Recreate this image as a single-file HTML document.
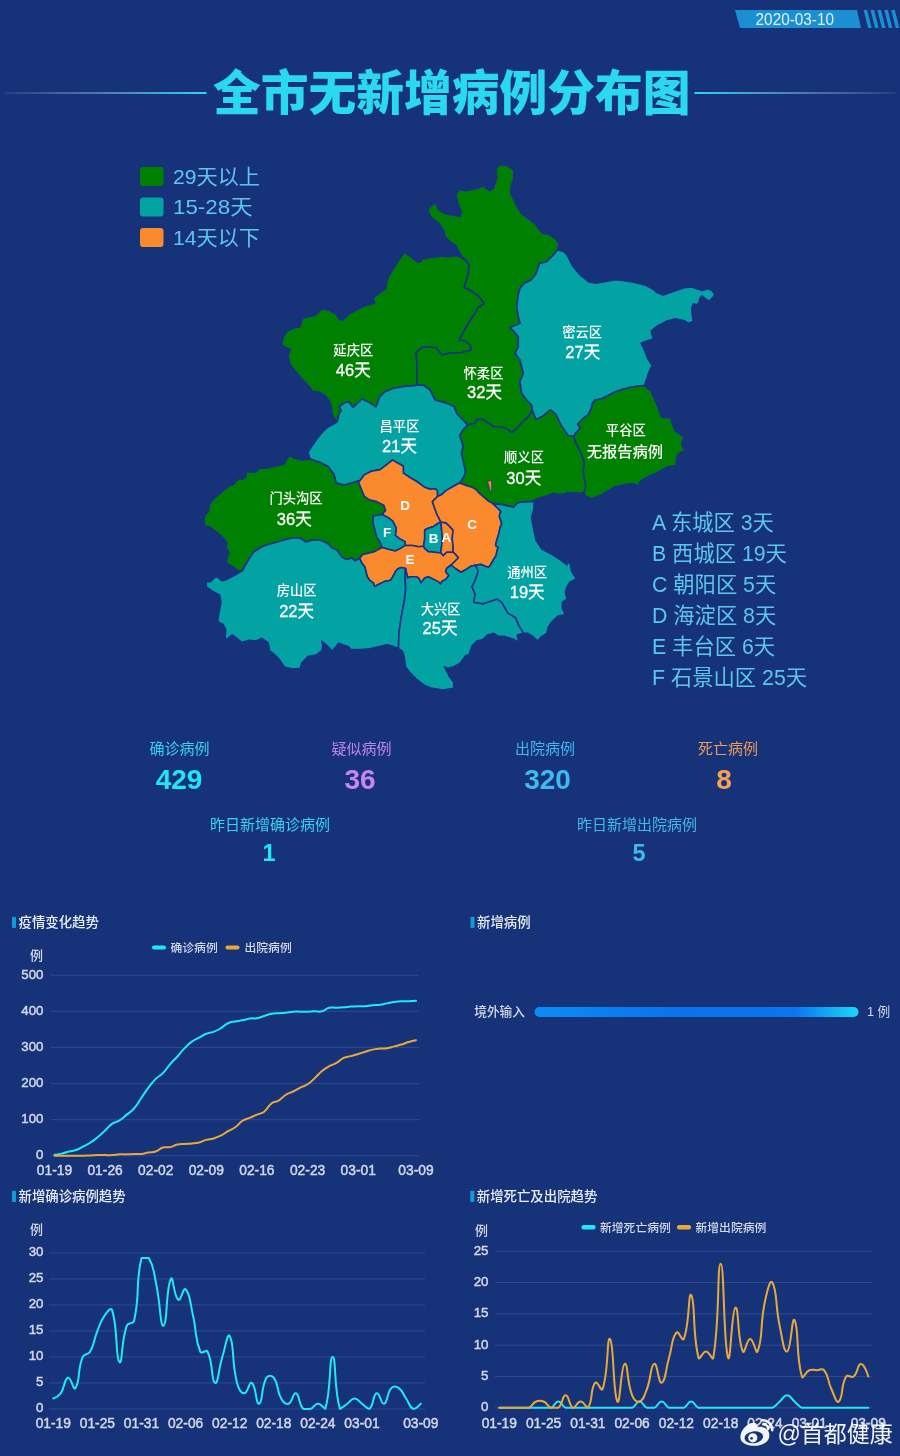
<!DOCTYPE html>
<html><head><meta charset="utf-8"><title>全市无新增病例分布图</title>
<style>
*{margin:0;padding:0;box-sizing:border-box}
html,body{width:900px;height:1456px;overflow:hidden;background:#16337a}
body{position:relative;font-family:"Liberation Sans","Noto Sans CJK SC",sans-serif}
.a{position:absolute;white-space:nowrap;line-height:1}
svg{position:absolute;left:0;top:0}
svg text{font-family:"Liberation Sans","Noto Sans CJK SC",sans-serif}
</style></head><body>
<svg width="900" height="1456" viewBox="0 0 900 1456">
<defs>
<linearGradient id="ll" x1="0" x2="1"><stop offset="0" stop-color="#9ab4dc" stop-opacity="0.1"/><stop offset="0.4" stop-color="#7aa4d8" stop-opacity="0.55"/><stop offset="1" stop-color="#2ad8ef"/></linearGradient>
<linearGradient id="lr" x1="0" x2="1"><stop offset="0" stop-color="#2ad8ef"/><stop offset="0.6" stop-color="#7aa4d8" stop-opacity="0.55"/><stop offset="1" stop-color="#9ab4dc" stop-opacity="0.1"/></linearGradient>
</defs>
<!-- date badge -->
<polygon points="735,10 857,10 861,28 740,28" fill="#1a8fd1"/>
<g fill="#1a8fd1">
<polygon points="863.6,10 867.2,10 871.7,28 868.1,28"/>
<polygon points="870.5,10 874.1,10 878.6,28 875.0,28"/>
<polygon points="877.4,10 881.0,10 885.5,28 881.9,28"/>
<polygon points="884.3,10 887.9,10 892.4,28 888.8,28"/>
<polygon points="891.2,10 894.8,10 899.3,28 895.7,28"/>
</g>
<text x="755.6" y="25" font-size="16.5" fill="#e2f1fb" textLength="78.4" lengthAdjust="spacingAndGlyphs">2020-03-10</text>
<!-- title lines -->
<rect x="5" y="92" width="201.5" height="2" fill="url(#ll)"/>
<rect x="694.5" y="92" width="201" height="2" fill="url(#lr)"/>
<text x="213" y="109.6" font-size="47.75" font-weight="900" fill="#2ad8ef">全市无新增病例分布图</text>
<!-- legend -->
<rect x="140" y="167" width="23.5" height="19" rx="3" fill="#008000"/>
<rect x="140" y="197.5" width="23.5" height="19" rx="3" fill="#03a3a3"/>
<rect x="140" y="228" width="23.5" height="19" rx="3" fill="#fb8a2f"/>
<g font-size="21" fill="#5cc6ef">
<text x="173" y="183.5" textLength="87" lengthAdjust="spacingAndGlyphs">29天以上</text>
<text x="173" y="214" textLength="79.5" lengthAdjust="spacingAndGlyphs">15-28天</text>
<text x="173" y="245" textLength="87" lengthAdjust="spacingAndGlyphs">14天以下</text>
</g>
<g stroke="#1a2f88" stroke-width="1.6" stroke-linejoin="round">
<path d="M462.0 258.0 L456.7 255.6 L447.8 256.7 L441.1 256.0 L430.0 257.8 L422.2 258.9 L421.1 261.1 L417.8 262.2 L412.2 257.8 L404.4 252.2 L401.1 256.7 L394.4 266.7 L387.8 277.8 L385.6 288.9 L378.9 293.3 L373.3 297.8 L374.4 303.3 L365.6 305.6 L358.9 308.9 L350.0 313.3 L346.9 316.3 L342.1 320.2 L339.2 319.2 L336.3 314.4 L329.6 310.6 L322.9 308.7 L320.0 310.6 L315.2 315.4 L308.5 316.8 L302.7 318.3 L300.8 323.1 L299.8 326.9 L294.0 327.9 L287.3 330.8 L283.5 336.5 L281.5 344.2 L284.4 347.1 L290.2 349.0 L288.3 354.8 L288.8 359.6 L290.2 364.4 L296.0 372.1 L301.7 378.8 L308.5 385.6 L311.3 389.4 L312.3 391.3 L320.0 392.3 L325.8 396.2 L329.6 401.9 L331.5 406.7 L331.5 412.5 L333.5 417.3 L337.3 421.5 L339.2 413.5 L341.2 410.6 L339.2 406.7 L343.1 403.8 L346.9 401.9 L349.3 402.4 L352.9 407.5 L362.0 399.0 L368.9 402.4 L376.0 406.9 L379.6 397.1 L384.9 391.8 L393.8 388.2 L404.4 386.4 L415.1 385.6 L416.5 385.0 L416.9 381.1 L416.9 363.3 L416.0 352.7 L422.2 347.3 L432.9 347.3 L436.7 348.3 L441.7 355.0 L449.2 353.3 L461.7 352.5 L471.7 350.0 L470.0 345.0 L465.0 340.8 L459.2 340.0 L468.3 323.3 L475.0 313.3 L477.5 308.3 L484.2 303.3 L478.3 295.8 L470.0 290.0 L464.2 287.5 L468.3 273.3 L469.2 265.0 L465.8 259.2Z" fill="#008000"/>
<path d="M462.0 258.0 L466.6 261.7 L463.0 258.1 L459.4 252.8 L455.9 245.7 L450.6 242.1 L445.2 236.8 L443.4 229.7 L438.1 222.6 L431.0 217.2 L427.4 210.1 L432.8 203.9 L435.4 203.0 L439.0 210.1 L445.2 213.7 L454.1 215.4 L460.3 216.3 L461.2 211.9 L457.7 203.0 L455.9 194.1 L459.4 189.7 L466.6 190.6 L475.4 188.8 L482.6 186.1 L486.1 187.9 L489.7 190.6 L493.2 188.8 L496.8 178.1 L495.9 169.2 L498.6 165.3 L503.9 164.8 L509.2 166.6 L513.7 170.1 L513.7 178.1 L511.0 187.0 L511.0 194.1 L514.6 201.2 L518.1 208.3 L521.7 213.7 L528.8 219.0 L535.9 224.3 L539.4 229.7 L543.0 233.2 L548.3 234.1 L555.4 238.6 L559.0 243.9 L557.5 250.0 L553.7 254.6 L550.1 258.1 L546.6 261.7 L539.4 263.4 L537.7 268.8 L535.6 274.4 L531.1 280.0 L524.4 283.3 L520.0 288.3 L518.3 295.0 L516.7 306.7 L518.3 316.7 L520.0 323.3 L510.0 327.5 L513.3 330.8 L518.3 336.7 L518.3 346.7 L515.0 353.3 L520.0 360.0 L521.7 366.7 L523.3 373.3 L520.0 381.7 L521.7 393.3 L526.7 400.0 L531.7 405.0 L532.4 410.5 L528.9 416.0 L523.6 421.3 L518.2 426.7 L512.0 433.0 L507.6 429.3 L500.4 426.7 L493.3 426.7 L483.0 419.5 L476.7 419.2 L475.0 423.3 L467.5 425.0 L463.0 420.0 L457.0 414.0 L454.0 406.5 L446.0 403.0 L435.0 400.0 L430.0 390.0 L424.0 385.5 L416.5 385.0 L416.9 381.1 L416.9 363.3 L416.0 352.7 L422.2 347.3 L432.9 347.3 L436.7 348.3 L441.7 355.0 L449.2 353.3 L461.7 352.5 L471.7 350.0 L470.0 345.0 L465.0 340.8 L459.2 340.0 L468.3 323.3 L475.0 313.3 L477.5 308.3 L484.2 303.3 L478.3 295.8 L470.0 290.0 L464.2 287.5 L468.3 273.3 L469.2 265.0 L465.8 259.2Z" fill="#008000"/>
<path d="M557.5 250.0 L560.0 250.4 L563.5 251.5 L567.1 254.9 L572.4 265.6 L579.6 274.4 L588.4 281.6 L595.6 283.3 L604.4 281.6 L615.1 279.8 L624.0 280.7 L634.7 282.4 L645.3 285.1 L652.4 288.7 L657.8 293.1 L663.1 294.9 L673.8 291.3 L684.4 287.8 L691.6 286.9 L696.9 288.7 L702.2 290.4 L707.6 288.7 L712.0 290.4 L714.7 294.0 L712.9 297.6 L709.3 301.1 L705.8 299.3 L702.2 295.8 L700.4 297.6 L698.7 302.9 L696.9 304.7 L693.3 303.8 L691.6 308.2 L692.4 315.3 L693.3 321.6 L688.0 323.3 L684.4 320.7 L675.6 318.9 L666.7 321.1 L657.8 325.6 L651.1 331.1 L653.3 338.9 L646.7 341.1 L641.1 343.3 L644.4 350.0 L647.8 358.9 L652.2 365.6 L648.9 372.2 L646.7 379.0 L644.9 384.2 L644.5 385.5 L639.0 386.0 L631.0 387.3 L623.0 389.3 L615.0 392.0 L609.7 394.7 L601.7 398.7 L595.0 400.0 L592.3 404.0 L591.0 409.3 L588.3 414.7 L583.0 418.7 L577.7 424.0 L580.3 428.0 L575.6 433.5 L573.8 436.5 L568.0 435.6 L560.9 424.9 L555.6 414.2 L550.2 409.8 L543.1 416.0 L536.0 419.6 L532.4 410.5 L531.7 405.0 L526.7 400.0 L521.7 393.3 L520.0 381.7 L523.3 373.3 L521.7 366.7 L520.0 360.0 L515.0 353.3 L518.3 346.7 L518.3 336.7 L513.3 330.8 L510.0 327.5 L520.0 323.3 L518.3 316.7 L516.7 306.7 L518.3 295.0 L520.0 288.3 L524.4 283.3 L531.1 280.0 L535.6 274.4 L537.7 268.8 L539.4 263.4 L546.6 261.7 L550.1 258.1 L553.7 254.6Z" fill="#03a3a3"/>
<path d="M644.5 385.5 L647.0 388.0 L651.0 390.7 L653.7 397.3 L657.7 406.7 L661.7 417.3 L671.0 418.0 L672.3 424.0 L675.0 430.7 L680.3 434.7 L684.3 437.3 L681.7 442.7 L683.0 448.0 L688.3 449.3 L681.7 452.0 L677.7 454.7 L676.3 460.0 L676.3 465.3 L668.3 466.7 L663.0 469.3 L656.3 473.3 L649.7 476.0 L644.3 478.7 L640.3 481.3 L637.7 486.7 L635.0 484.0 L628.3 484.0 L621.7 485.3 L615.0 486.7 L608.3 490.7 L601.7 494.7 L595.0 497.3 L591.0 498.7 L585.7 496.0 L583.5 493.0 L585.7 486.7 L584.3 480.0 L583.0 470.7 L584.3 462.7 L581.7 454.7 L577.7 446.7 L575.0 441.3 L573.8 436.5 L575.6 433.5 L580.3 428.0 L577.7 424.0 L583.0 418.7 L588.3 414.7 L591.0 409.3 L592.3 404.0 L595.0 400.0 L601.7 398.7 L609.7 394.7 L615.0 392.0 L623.0 389.3 L631.0 387.3 L639.0 386.0Z" fill="#008000"/>
<path d="M467.5 425.0 L475.0 423.3 L476.7 419.2 L483.0 419.5 L493.3 426.7 L500.4 426.7 L507.6 429.3 L512.0 433.0 L518.2 426.7 L523.6 421.3 L528.9 416.0 L532.4 410.5 L536.0 419.6 L543.1 416.0 L550.2 409.8 L555.6 414.2 L560.9 424.9 L568.0 435.6 L573.8 436.5 L575.0 441.3 L577.7 446.7 L581.7 454.7 L584.3 462.7 L583.0 470.7 L584.3 480.0 L585.7 486.7 L583.5 493.0 L575.1 493.0 L566.7 492.7 L564.4 494.2 L557.8 494.4 L553.8 493.3 L546.7 496.0 L539.6 497.8 L534.2 500.4 L532.7 501.6 L527.8 501.6 L522.9 502.2 L520.0 502.2 L517.2 503.3 L513.3 507.2 L508.9 506.1 L501.0 504.4 L492.6 503.4 L488.7 501.3 L483.8 497.2 L478.9 493.0 L476.5 490.0 L472.8 487.5 L466.7 485.7 L459.5 483.0 L463.0 478.3 L465.5 472.2 L464.2 466.1 L463.0 460.0 L461.3 453.3 L463.1 446.2 L459.6 435.6 L463.0 430.0 L466.7 425.8Z" fill="#008000"/>
<path d="M337.3 421.5 L339.2 413.5 L341.2 410.6 L339.2 406.7 L343.1 403.8 L346.9 401.9 L349.3 402.4 L352.9 407.5 L362.0 399.0 L368.9 402.4 L376.0 406.9 L379.6 397.1 L384.9 391.8 L393.8 388.2 L404.4 386.4 L415.1 385.6 L416.5 385.0 L424.0 385.5 L430.0 390.0 L435.0 400.0 L446.0 403.0 L454.0 406.5 L457.0 414.0 L463.0 420.0 L467.5 425.0 L466.7 425.8 L463.0 430.0 L459.6 435.6 L463.1 446.2 L461.3 453.3 L463.0 460.0 L464.2 466.1 L465.5 472.2 L463.0 478.3 L459.5 483.0 L454.4 485.7 L445.9 490.6 L442.2 494.2 L437.5 496.5 L437.3 490.6 L434.9 488.7 L430.0 489.3 L424.7 487.3 L417.6 482.0 L408.7 476.7 L403.3 473.1 L403.3 466.0 L398.0 463.3 L392.7 459.8 L387.3 464.2 L380.2 469.6 L371.3 471.3 L364.2 474.9 L358.9 482.0 L358.0 481.0 L352.0 483.0 L344.0 485.0 L336.0 483.0 L334.0 474.5 L328.0 466.5 L320.0 462.5 L310.0 459.0 L308.0 452.0 L312.0 446.0 L317.1 438.5 L321.9 432.7 L326.7 427.9 L333.5 424.0Z" fill="#03a3a3"/>
<path d="M310.0 459.0 L320.0 462.5 L328.0 466.5 L334.0 474.5 L336.0 483.0 L344.0 485.0 L352.0 483.0 L358.0 481.0 L360.7 487.3 L364.2 496.2 L369.6 499.8 L376.7 501.6 L383.8 505.1 L385.6 510.4 L382.0 514.5 L373.1 516.0 L373.1 522.9 L374.9 530.0 L376.7 537.1 L380.0 542.0 L382.0 547.5 L374.6 551.6 L367.2 553.4 L362.3 554.7 L359.9 558.3 L355.0 560.8 L352.0 558.0 L346.7 559.6 L341.8 557.1 L336.9 550.0 L332.0 548.0 L327.1 543.0 L320.0 540.0 L312.0 540.0 L306.0 542.0 L300.0 538.0 L292.0 538.0 L284.0 540.0 L275.5 542.5 L268.0 544.5 L261.9 546.8 L253.7 552.0 L249.6 558.1 L246.0 564.0 L242.5 570.5 L239.3 571.5 L232.1 566.4 L225.9 562.3 L229.0 552.0 L225.9 547.8 L226.9 542.7 L221.8 536.5 L215.6 531.4 L209.4 526.7 L204.3 525.7 L204.3 518.0 L205.3 513.9 L208.4 511.8 L209.4 504.6 L211.5 501.5 L217.7 495.3 L224.9 489.1 L229.0 486.0 L234.1 484.0 L236.2 480.9 L239.3 478.3 L242.4 479.4 L245.5 477.8 L246.5 471.6 L252.7 472.1 L256.8 471.6 L258.9 468.5 L268.0 468.0 L276.0 466.0 L284.0 464.0 L286.0 460.0 L290.0 455.0 L294.0 458.0 L302.0 460.0Z" fill="#008000"/>
<path d="M358.0 481.0 L358.9 482.0 L364.2 474.9 L371.3 471.3 L380.2 469.6 L387.3 464.2 L392.7 459.8 L398.0 463.3 L403.3 466.0 L403.3 473.1 L408.7 476.7 L417.6 482.0 L424.7 487.3 L430.0 489.3 L434.9 488.7 L437.3 490.6 L437.5 496.5 L432.4 501.6 L434.9 508.9 L437.3 515.0 L439.8 519.9 L441.0 522.0 L437.1 524.0 L433.6 526.4 L428.2 528.2 L424.7 530.0 L424.7 538.9 L423.5 546.3 L418.6 546.7 L412.5 545.5 L405.0 545.5 L405.1 541.6 L399.8 538.9 L395.3 535.3 L396.2 528.2 L392.7 521.1 L388.2 517.6 L382.0 514.5 L385.6 510.4 L383.8 505.1 L376.7 501.6 L369.6 499.8 L364.2 496.2 L360.7 487.3Z" fill="#fb8a2f"/>
<path d="M382.0 514.5 L388.2 517.6 L392.7 521.1 L396.2 528.2 L395.3 535.3 L399.8 538.9 L405.1 541.6 L405.0 545.5 L400.2 548.6 L395.3 551.0 L389.2 549.5 L382.0 547.5 L380.0 542.0 L376.7 537.1 L374.9 530.0 L373.1 522.9 L373.1 516.0Z" fill="#03a3a3"/>
<path d="M441.0 522.0 L441.6 530.0 L442.4 538.9 L441.6 546.0 L440.8 553.0 L434.5 552.2 L428.3 551.6 L424.7 548.6 L423.5 546.3 L424.7 538.9 L424.7 530.0 L428.2 528.2 L433.6 526.4 L437.1 524.0Z" fill="#03a3a3"/>
<path d="M441.0 522.0 L446.0 522.9 L449.6 526.4 L453.1 530.0 L452.2 538.9 L453.1 546.0 L453.1 552.2 L453.3 552.2 L446.7 552.2 L443.3 555.6 L440.8 553.0 L441.6 546.0 L442.4 538.9 L441.6 530.0Z" fill="#fb8a2f"/>
<path d="M459.5 483.0 L466.7 485.7 L472.8 487.5 L476.5 490.0 L478.9 493.0 L483.8 497.2 L488.7 501.3 L492.6 503.4 L496.5 507.0 L501.1 511.7 L500.0 513.3 L499.4 516.7 L501.1 521.1 L501.7 523.9 L500.0 527.8 L498.9 533.3 L497.2 538.9 L495.6 544.4 L496.1 546.1 L498.3 547.2 L497.2 550.0 L496.1 555.6 L493.3 560.0 L490.5 565.0 L488.5 567.3 L486.0 566.5 L481.0 564.4 L475.5 565.2 L471.1 566.1 L466.0 569.5 L461.1 572.2 L456.0 569.0 L451.0 565.0 L454.5 561.5 L458.3 557.8 L455.5 554.5 L453.3 552.2 L453.1 552.2 L453.1 546.0 L452.2 538.9 L453.1 530.0 L449.6 526.4 L446.0 522.9 L441.0 522.0 L439.8 519.9 L437.3 515.0 L434.9 508.9 L432.4 501.6 L437.5 496.5 L442.2 494.2 L445.9 490.6 L454.4 485.7Z" fill="#fb8a2f"/>
<path d="M359.9 558.3 L362.3 554.7 L367.2 553.4 L374.6 551.6 L382.0 547.5 L389.2 549.5 L395.3 551.0 L400.2 548.6 L405.0 545.5 L412.5 545.5 L418.6 546.7 L423.5 546.3 L424.7 548.6 L428.3 551.6 L434.5 552.2 L440.8 553.0 L443.3 555.6 L446.7 552.2 L453.3 552.2 L455.5 554.5 L458.3 557.8 L454.5 561.5 L451.0 565.0 L446.7 568.3 L445.6 571.7 L448.9 575.6 L445.6 579.4 L441.8 581.5 L440.6 584.0 L438.1 581.6 L433.2 579.1 L428.3 576.7 L424.7 577.9 L421.0 582.8 L418.6 577.9 L416.1 576.7 L410.0 576.7 L407.6 577.9 L406.3 571.8 L405.5 568.5 L401.5 567.5 L397.8 568.7 L395.3 571.8 L392.9 576.7 L390.5 580.3 L384.3 581.6 L379.4 584.0 L374.6 586.5 L373.3 582.8 L369.7 580.3 L367.2 576.7 L366.0 571.8 L364.8 566.9 L361.1 562.0Z" fill="#fb8a2f"/>
<path d="M242.5 570.5 L246.0 564.0 L249.6 558.1 L253.7 552.0 L261.9 546.8 L268.0 544.5 L275.5 542.5 L284.0 540.0 L292.0 538.0 L300.0 538.0 L306.0 542.0 L312.0 540.0 L320.0 540.0 L327.1 543.0 L332.0 548.0 L336.9 550.0 L341.8 557.1 L346.7 559.6 L352.0 558.0 L355.0 560.8 L359.9 558.3 L361.1 562.0 L364.8 566.9 L366.0 571.8 L367.2 576.7 L369.7 580.3 L373.3 582.8 L374.6 586.5 L379.4 584.0 L384.3 581.6 L390.5 580.3 L392.9 576.7 L395.3 571.8 L397.8 568.7 L401.5 567.5 L405.5 568.5 L405.1 576.7 L405.7 588.9 L404.5 600.0 L401.1 617.8 L398.9 633.3 L398.5 648.5 L393.1 646.4 L386.9 644.9 L380.7 646.4 L369.8 648.8 L360.4 649.5 L351.1 649.5 L348.0 646.4 L343.3 644.9 L338.7 643.3 L332.4 651.1 L326.2 644.9 L321.7 641.0 L323.0 645.7 L321.7 651.0 L316.3 655.0 L308.3 656.3 L301.7 663.0 L300.3 668.3 L292.3 669.0 L284.3 667.0 L279.0 659.0 L273.7 653.7 L269.7 651.0 L268.3 643.0 L261.7 638.3 L256.3 641.0 L249.7 640.3 L241.7 642.3 L237.7 639.0 L232.3 635.0 L225.0 640.3 L225.7 629.7 L223.0 624.3 L217.7 621.7 L219.0 612.3 L221.0 603.0 L219.7 595.2 L212.5 591.1 L206.3 587.0 L206.3 581.8 L210.4 581.8 L215.6 576.7 L218.7 577.7 L221.8 580.8 L225.9 579.8 L234.1 575.6Z" fill="#03a3a3"/>
<path d="M405.5 568.5 L406.3 571.8 L407.6 577.9 L410.0 576.7 L416.1 576.7 L418.6 577.9 L421.0 582.8 L424.7 577.9 L428.3 576.7 L433.2 579.1 L438.1 581.6 L440.6 584.0 L441.8 581.5 L445.6 579.4 L448.9 575.6 L445.6 571.7 L446.7 568.3 L451.0 565.0 L456.0 569.0 L461.1 572.2 L466.0 569.5 L471.1 566.1 L475.5 565.2 L478.3 571.1 L475.2 580.4 L472.1 586.7 L475.2 594.4 L473.7 602.2 L483.0 603.8 L497.0 599.1 L501.7 602.2 L507.9 613.1 L515.7 617.8 L518.8 625.5 L521.9 630.2 L523.4 633.3 L517.2 634.9 L518.8 642.6 L514.1 639.5 L504.8 636.4 L498.5 636.4 L493.9 633.3 L487.7 634.9 L483.0 639.5 L476.8 641.1 L472.1 645.8 L469.0 655.1 L465.6 655.6 L460.0 663.5 L453.7 666.7 L447.5 668.2 L444.4 666.7 L449.1 676.0 L453.7 682.2 L453.7 688.4 L442.9 690.0 L432.0 688.4 L424.2 685.3 L416.4 679.1 L410.2 672.9 L405.5 666.7 L404.8 662.0 L404.0 655.8 L402.4 651.1 L398.5 648.5 L398.9 633.3 L401.1 617.8 L404.5 600.0 L405.7 588.9 L405.1 576.7Z" fill="#03a3a3"/>
<path d="M492.6 503.4 L501.0 504.4 L508.9 506.1 L513.3 507.2 L517.2 503.3 L520.0 502.2 L522.9 502.2 L527.8 501.6 L532.7 501.6 L534.2 500.4 L533.9 508.9 L531.5 517.5 L533.9 530.0 L535.9 540.0 L542.1 549.3 L551.4 554.0 L560.8 560.2 L567.0 564.9 L566.2 561.8 L570.1 563.3 L571.6 571.1 L576.3 578.9 L570.1 582.0 L567.0 586.7 L565.4 592.9 L567.0 599.1 L562.3 602.2 L562.3 608.4 L565.4 614.6 L557.6 616.2 L551.4 622.4 L548.3 627.1 L546.8 633.3 L542.1 636.4 L537.4 641.1 L532.8 636.4 L528.1 633.3 L523.4 633.3 L521.9 630.2 L518.8 625.5 L515.7 617.8 L507.9 613.1 L501.7 602.2 L497.0 599.1 L483.0 603.8 L473.7 602.2 L475.2 594.4 L472.1 586.7 L475.2 580.4 L478.3 571.1 L475.5 565.2 L481.0 564.4 L486.0 566.5 L488.5 567.3 L490.5 565.0 L493.3 560.0 L496.1 555.6 L497.2 550.0 L498.3 547.2 L496.1 546.1 L495.6 544.4 L497.2 538.9 L498.9 533.3 L500.0 527.8 L501.7 523.9 L501.1 521.1 L499.4 516.7 L500.0 513.3 L501.1 511.7 L496.5 507.0Z" fill="#03a3a3"/>
<path d="M487.5 481.4 L491.7 480.2 L491.7 490.6 L490.5 491.8Z" fill="#fb8a2f" stroke-width="0.8"/>
</g>
<g fill="#ffffff" text-anchor="middle">
<text x="353.3" y="354.8" font-size="13.3" font-weight="500">延庆区</text>
<text x="353.3" y="375.6" font-size="16.5" stroke="#ffffff" stroke-width="0.3">46天</text>
<text x="483.5" y="377.5" font-size="13.3" font-weight="500">怀柔区</text>
<text x="484.5" y="397.5" font-size="16.5" stroke="#ffffff" stroke-width="0.3">32天</text>
<text x="582.2" y="337.0" font-size="13.3" font-weight="500">密云区</text>
<text x="582.8" y="357.8" font-size="16.5" stroke="#ffffff" stroke-width="0.3">27天</text>
<text x="625.8" y="435.0" font-size="13.3" font-weight="500">平谷区</text>
<text x="624.9" y="456.9" font-size="15.3" font-weight="500">无报告病例</text>
<text x="399.5" y="431.2" font-size="13.3" font-weight="500">昌平区</text>
<text x="399.5" y="452.0" font-size="16.5" stroke="#ffffff" stroke-width="0.3">21天</text>
<text x="524.0" y="462.3" font-size="13.3" font-weight="500">顺义区</text>
<text x="523.8" y="483.6" font-size="16.5" stroke="#ffffff" stroke-width="0.3">30天</text>
<text x="296.0" y="503.2" font-size="13.3" font-weight="500">门头沟区</text>
<text x="294.3" y="525.0" font-size="16.5" stroke="#ffffff" stroke-width="0.3">36天</text>
<text x="296.6" y="595.4" font-size="13.3" font-weight="500">房山区</text>
<text x="296.6" y="617.0" font-size="16.5" stroke="#ffffff" stroke-width="0.3">22天</text>
<text x="440.6" y="613.6" font-size="13.3" font-weight="500">大兴区</text>
<text x="440.0" y="634.4" font-size="16.5" stroke="#ffffff" stroke-width="0.3">25天</text>
<text x="527.2" y="577.0" font-size="13.3" font-weight="500">通州区</text>
<text x="527.2" y="597.8" font-size="16.5" stroke="#ffffff" stroke-width="0.3">19天</text>
<text x="405.2" y="509.6" font-size="13.5" font-weight="bold">D</text>
<text x="387.0" y="537.1" font-size="13.5" font-weight="bold">F</text>
<text x="433.6" y="543.3" font-size="13.5" font-weight="bold">B</text>
<text x="446.4" y="542.4" font-size="13.5" font-weight="bold">A</text>
<text x="472.2" y="529.1" font-size="13.5" font-weight="bold">C</text>
<text x="410.0" y="563.8" font-size="13.5" font-weight="bold">E</text>
</g>
<g font-size="21.3" fill="#5cc6ef">
<text x="652" y="529.5">A 东城区 3天</text>
<text x="652" y="560.5">B 西城区 19天</text>
<text x="652" y="591.5">C 朝阳区 5天</text>
<text x="652" y="622.5">D 海淀区 8天</text>
<text x="652" y="653.5">E 丰台区 6天</text>
<text x="652" y="684.5">F 石景山区 25天</text>
</g>
<!-- stats -->
<g font-size="15" text-anchor="middle">
<text x="179.5" y="754" fill="#38d2ee">确诊病例</text>
<text x="361.5" y="754" fill="#c084ec">疑似病例</text>
<text x="545" y="754" fill="#43b8ec">出院病例</text>
<text x="728" y="754" fill="#ec9a5a">死亡病例</text>
<text x="270" y="830" fill="#38d2ee">昨日新增确诊病例</text>
<text x="637" y="830" fill="#43b8ec">昨日新增出院病例</text>
</g>
<g font-size="28" font-weight="bold" text-anchor="middle" font-family="Liberation Sans,sans-serif">
<text x="179" y="788.5" fill="#1fe6f6">429</text>
<text x="360" y="788.5" fill="#c985f2">36</text>
<text x="547.5" y="788.5" fill="#3fbaf0">320</text>
<text x="724" y="788.5" fill="#f6a058">8</text>
<text x="269" y="861" fill="#1fe6f6" font-size="23.5">1</text>
<text x="639" y="861" fill="#3fbaf0" font-size="23.5">5</text>
</g>
<rect x="12.0" y="916.9" width="4" height="11" fill="#139bd3"/><text x="18.5" y="927.3" font-size="13.4" fill="#e8edf5" font-weight="500" text-anchor="start" >疫情变化趋势</text>
<rect x="152" y="945.5" width="14" height="4" rx="2" fill="#21e8f2"/>
<text x="170.5" y="951.5" font-size="11.8" fill="#d3d9e6" font-weight="500" text-anchor="start" >确诊病例</text>
<rect x="225.5" y="945.5" width="14" height="4" rx="2" fill="#e9a93a"/>
<text x="244.5" y="951.5" font-size="11.8" fill="#d3d9e6" font-weight="500" text-anchor="start" >出院病例</text>
<text x="43.0" y="959.5" font-size="13" fill="#d3d9e6" font-weight="500" text-anchor="end" >例</text>
<text x="43.5" y="1159.1" font-size="13.3" fill="#d3d9e6" font-weight="normal" text-anchor="end" stroke="#d3d9e6" stroke-width="0.45">0</text>
<line x1="51" x2="419" y1="1119.7" y2="1119.7" stroke="#2f4a8e" stroke-width="1"/>
<text x="43.5" y="1123.0" font-size="13.3" fill="#d3d9e6" font-weight="normal" text-anchor="end" stroke="#d3d9e6" stroke-width="0.45">100</text>
<line x1="51" x2="419" y1="1083.6" y2="1083.6" stroke="#2f4a8e" stroke-width="1"/>
<text x="43.5" y="1086.9" font-size="13.3" fill="#d3d9e6" font-weight="normal" text-anchor="end" stroke="#d3d9e6" stroke-width="0.45">200</text>
<line x1="51" x2="419" y1="1047.4" y2="1047.4" stroke="#2f4a8e" stroke-width="1"/>
<text x="43.5" y="1050.7" font-size="13.3" fill="#d3d9e6" font-weight="normal" text-anchor="end" stroke="#d3d9e6" stroke-width="0.45">300</text>
<line x1="51" x2="419" y1="1011.3" y2="1011.3" stroke="#2f4a8e" stroke-width="1"/>
<text x="43.5" y="1014.6" font-size="13.3" fill="#d3d9e6" font-weight="normal" text-anchor="end" stroke="#d3d9e6" stroke-width="0.45">400</text>
<line x1="51" x2="419" y1="975.2" y2="975.2" stroke="#2f4a8e" stroke-width="1"/>
<text x="43.5" y="978.5" font-size="13.3" fill="#d3d9e6" font-weight="normal" text-anchor="end" stroke="#d3d9e6" stroke-width="0.45">500</text>
<line x1="51" x2="419" y1="1155.8" y2="1155.8" stroke="#2f4a8e" stroke-width="1"/>
<text x="54.5" y="1175.0" font-size="13.8" fill="#d3d9e6" font-weight="normal" text-anchor="middle" stroke="#d3d9e6" stroke-width="0.45">01-19</text>
<text x="105.1" y="1175.0" font-size="13.8" fill="#d3d9e6" font-weight="normal" text-anchor="middle" stroke="#d3d9e6" stroke-width="0.45">01-26</text>
<text x="155.7" y="1175.0" font-size="13.8" fill="#d3d9e6" font-weight="normal" text-anchor="middle" stroke="#d3d9e6" stroke-width="0.45">02-02</text>
<text x="206.3" y="1175.0" font-size="13.8" fill="#d3d9e6" font-weight="normal" text-anchor="middle" stroke="#d3d9e6" stroke-width="0.45">02-09</text>
<text x="256.9" y="1175.0" font-size="13.8" fill="#d3d9e6" font-weight="normal" text-anchor="middle" stroke="#d3d9e6" stroke-width="0.45">02-16</text>
<text x="307.6" y="1175.0" font-size="13.8" fill="#d3d9e6" font-weight="normal" text-anchor="middle" stroke="#d3d9e6" stroke-width="0.45">02-23</text>
<text x="358.2" y="1175.0" font-size="13.8" fill="#d3d9e6" font-weight="normal" text-anchor="middle" stroke="#d3d9e6" stroke-width="0.45">03-01</text>
<text x="416.0" y="1175.0" font-size="13.8" fill="#d3d9e6" font-weight="normal" text-anchor="middle" stroke="#d3d9e6" stroke-width="0.45">03-09</text>
<path d="M54.50 1154.72 C54.50 1154.72 58.17 1154.43 61.73 1153.63 C65.40 1152.81 65.30 1152.38 68.96 1151.47 C72.53 1150.57 72.74 1151.23 76.19 1150.02 C79.97 1148.70 79.84 1148.29 83.42 1146.41 C87.07 1144.49 87.20 1144.68 90.65 1142.44 C94.43 1139.98 94.40 1139.89 97.88 1137.02 C101.63 1133.93 101.54 1133.82 105.11 1130.52 C108.77 1127.13 108.31 1126.47 112.34 1123.65 C115.54 1121.41 116.23 1122.49 119.57 1120.40 C123.46 1117.97 123.23 1117.57 126.80 1114.62 C130.46 1111.61 130.94 1112.03 134.03 1108.48 C138.17 1103.72 137.64 1103.25 141.26 1098.01 C144.88 1092.77 144.66 1092.61 148.49 1087.53 C151.89 1083.03 151.75 1082.83 155.72 1078.86 C158.98 1075.61 159.74 1076.38 162.95 1073.09 C166.97 1068.97 166.39 1068.41 170.18 1064.06 C173.62 1060.11 173.88 1060.34 177.41 1056.47 C181.11 1052.40 180.80 1052.09 184.64 1048.16 C188.03 1044.69 187.96 1044.49 191.87 1041.66 C195.19 1039.26 195.48 1039.67 199.10 1037.69 C202.72 1035.70 202.53 1035.23 206.33 1033.71 C209.76 1032.34 210.09 1033.21 213.56 1031.91 C217.32 1030.50 217.33 1030.37 220.79 1028.30 C224.56 1026.03 224.10 1025.10 228.02 1023.24 C231.33 1021.67 231.60 1022.16 235.25 1021.43 C238.83 1020.72 238.90 1021.07 242.48 1020.35 C246.13 1019.62 246.04 1019.09 249.71 1018.54 C253.27 1018.01 253.40 1018.80 256.94 1018.18 C260.63 1017.54 260.56 1017.10 264.17 1016.02 C267.79 1014.93 267.72 1014.58 271.40 1013.85 C274.95 1013.14 275.01 1013.40 278.63 1013.13 C282.24 1012.86 282.26 1013.12 285.86 1012.76 C289.49 1012.40 289.45 1011.95 293.09 1011.68 C296.68 1011.41 296.71 1011.68 300.32 1011.68 C303.94 1011.68 303.94 1011.77 307.55 1011.68 C311.17 1011.59 311.16 1011.41 314.78 1011.32 C318.39 1011.23 318.60 1012.17 322.01 1011.32 C325.83 1010.37 325.42 1008.66 329.24 1007.71 C332.65 1006.86 332.86 1007.80 336.47 1007.71 C340.09 1007.62 340.09 1007.62 343.70 1007.35 C347.32 1007.08 347.31 1006.90 350.93 1006.62 C354.54 1006.35 354.54 1006.35 358.16 1006.26 C361.77 1006.17 361.80 1006.53 365.39 1006.26 C369.03 1005.99 368.99 1005.54 372.62 1005.18 C376.22 1004.82 376.27 1005.27 379.85 1004.82 C383.50 1004.36 383.47 1004.10 387.08 1003.37 C390.70 1002.65 390.67 1002.47 394.31 1001.93 C397.90 1001.39 397.92 1001.39 401.54 1001.21 C405.15 1001.03 405.16 1001.30 408.77 1001.21 C412.39 1001.12 416.00 1000.85 416.00 1000.85" fill="none" stroke="#21e8f2" stroke-width="2" stroke-linejoin="round" stroke-linecap="round"/>
<path d="M54.50 1155.80 C54.50 1155.80 58.12 1155.80 61.73 1155.80 C65.34 1155.80 65.35 1155.80 68.96 1155.80 C72.58 1155.80 72.58 1155.80 76.19 1155.80 C79.80 1155.80 79.81 1155.80 83.42 1155.80 C87.04 1155.71 87.04 1155.62 90.65 1155.44 C94.27 1155.26 94.26 1155.17 97.88 1155.08 C101.49 1154.99 101.50 1155.08 105.11 1155.08 C108.72 1155.08 108.73 1155.26 112.34 1155.08 C115.96 1154.90 115.95 1154.54 119.57 1154.36 C123.18 1154.18 123.19 1154.45 126.80 1154.36 C130.42 1154.26 130.41 1154.08 134.03 1153.99 C137.64 1153.90 137.68 1154.35 141.26 1153.99 C144.91 1153.63 144.86 1153.18 148.49 1152.55 C152.09 1151.92 152.32 1152.65 155.72 1151.47 C159.55 1150.13 159.10 1148.65 162.95 1147.49 C166.33 1146.48 166.67 1147.83 170.18 1147.13 C173.90 1146.39 173.70 1145.44 177.41 1144.60 C180.93 1143.81 181.02 1144.15 184.64 1143.88 C188.25 1143.61 188.27 1143.88 191.87 1143.52 C195.50 1143.16 195.57 1143.32 199.10 1142.44 C202.80 1141.51 202.65 1140.92 206.33 1139.91 C209.88 1138.93 210.04 1139.52 213.56 1138.46 C217.27 1137.35 217.32 1137.31 220.79 1135.57 C224.55 1133.70 224.37 1133.34 228.02 1131.24 C231.60 1129.18 231.93 1129.67 235.25 1127.27 C239.16 1124.43 238.47 1123.37 242.48 1120.76 C245.70 1118.68 246.13 1119.40 249.71 1117.87 C253.36 1116.33 253.29 1116.17 256.94 1114.62 C260.52 1113.10 261.18 1114.05 264.17 1111.73 C268.41 1108.45 267.16 1106.71 271.40 1103.43 C274.39 1101.11 275.33 1102.52 278.63 1100.54 C282.56 1098.18 281.97 1097.19 285.86 1094.76 C289.20 1092.67 289.55 1093.28 293.09 1091.51 C296.78 1089.66 296.63 1089.38 300.32 1087.53 C303.86 1085.76 304.26 1086.42 307.55 1084.28 C311.49 1081.72 311.30 1081.36 314.78 1078.14 C318.53 1074.68 318.09 1074.15 322.01 1070.92 C325.32 1068.19 325.47 1068.29 329.24 1066.22 C332.70 1064.32 333.05 1064.94 336.47 1062.97 C340.28 1060.78 339.78 1059.78 343.70 1057.91 C347.01 1056.34 347.34 1057.10 350.93 1056.11 C354.57 1055.11 354.55 1055.03 358.16 1053.94 C361.78 1052.86 361.78 1052.86 365.39 1051.77 C369.01 1050.69 368.95 1050.43 372.62 1049.61 C376.18 1048.81 376.22 1048.89 379.85 1048.52 C383.45 1048.16 383.52 1048.70 387.08 1048.16 C390.75 1047.61 390.70 1047.26 394.31 1046.36 C397.93 1045.45 397.97 1045.62 401.54 1044.55 C405.20 1043.45 405.11 1043.12 408.77 1042.02 C412.34 1040.95 416.00 1040.22 416.00 1040.22" fill="none" stroke="#e9a93a" stroke-width="2" stroke-linejoin="round" stroke-linecap="round"/>
<rect x="470.5" y="916.9" width="4" height="11" fill="#139bd3"/><text x="477.0" y="927.3" font-size="13.4" fill="#e8edf5" font-weight="500" text-anchor="start" >新增病例</text>
<text x="525.0" y="1015.5" font-size="12.7" fill="#d3d9e6" font-weight="500" text-anchor="end" >境外输入</text>
<defs><linearGradient id="bar" x1="0" x2="1" y1="0" y2="0"><stop offset="0" stop-color="#0b8cf3"/><stop offset="0.45" stop-color="#0a72ee"/><stop offset="0.8" stop-color="#0b74f0"/><stop offset="1" stop-color="#1ad8f5"/></linearGradient></defs>
<rect x="534.5" y="1007" width="324" height="10" rx="5" fill="url(#bar)"/>
<text x="867.0" y="1015.5" font-size="12.7" fill="#d3d9e6" font-weight="normal" text-anchor="start" >1 例</text>
<rect x="12.0" y="1190.9" width="4" height="11" fill="#139bd3"/><text x="18.5" y="1201.3" font-size="13.4" fill="#e8edf5" font-weight="500" text-anchor="start" >新增确诊病例趋势</text>
<text x="43.0" y="1234.0" font-size="13" fill="#d3d9e6" font-weight="500" text-anchor="end" >例</text>
<text x="43.5" y="1412.2" font-size="13.3" fill="#d3d9e6" font-weight="normal" text-anchor="end" stroke="#d3d9e6" stroke-width="0.45">0</text>
<line x1="49" x2="425" y1="1382.9" y2="1382.9" stroke="#2f4a8e" stroke-width="1"/>
<text x="43.5" y="1386.2" font-size="13.3" fill="#d3d9e6" font-weight="normal" text-anchor="end" stroke="#d3d9e6" stroke-width="0.45">5</text>
<line x1="49" x2="425" y1="1356.9" y2="1356.9" stroke="#2f4a8e" stroke-width="1"/>
<text x="43.5" y="1360.2" font-size="13.3" fill="#d3d9e6" font-weight="normal" text-anchor="end" stroke="#d3d9e6" stroke-width="0.45">10</text>
<line x1="49" x2="425" y1="1330.9" y2="1330.9" stroke="#2f4a8e" stroke-width="1"/>
<text x="43.5" y="1334.2" font-size="13.3" fill="#d3d9e6" font-weight="normal" text-anchor="end" stroke="#d3d9e6" stroke-width="0.45">15</text>
<line x1="49" x2="425" y1="1304.9" y2="1304.9" stroke="#2f4a8e" stroke-width="1"/>
<text x="43.5" y="1308.2" font-size="13.3" fill="#d3d9e6" font-weight="normal" text-anchor="end" stroke="#d3d9e6" stroke-width="0.45">20</text>
<line x1="49" x2="425" y1="1278.9" y2="1278.9" stroke="#2f4a8e" stroke-width="1"/>
<text x="43.5" y="1282.2" font-size="13.3" fill="#d3d9e6" font-weight="normal" text-anchor="end" stroke="#d3d9e6" stroke-width="0.45">25</text>
<line x1="49" x2="425" y1="1252.9" y2="1252.9" stroke="#2f4a8e" stroke-width="1"/>
<text x="43.5" y="1256.2" font-size="13.3" fill="#d3d9e6" font-weight="normal" text-anchor="end" stroke="#d3d9e6" stroke-width="0.45">30</text>
<line x1="49" x2="425" y1="1408.9" y2="1408.9" stroke="#2f4a8e" stroke-width="1"/>
<text x="53.3" y="1428.0" font-size="13.8" fill="#d3d9e6" font-weight="normal" text-anchor="middle" stroke="#d3d9e6" stroke-width="0.45">01-19</text>
<text x="97.4" y="1428.0" font-size="13.8" fill="#d3d9e6" font-weight="normal" text-anchor="middle" stroke="#d3d9e6" stroke-width="0.45">01-25</text>
<text x="141.5" y="1428.0" font-size="13.8" fill="#d3d9e6" font-weight="normal" text-anchor="middle" stroke="#d3d9e6" stroke-width="0.45">01-31</text>
<text x="185.6" y="1428.0" font-size="13.8" fill="#d3d9e6" font-weight="normal" text-anchor="middle" stroke="#d3d9e6" stroke-width="0.45">02-06</text>
<text x="229.7" y="1428.0" font-size="13.8" fill="#d3d9e6" font-weight="normal" text-anchor="middle" stroke="#d3d9e6" stroke-width="0.45">02-12</text>
<text x="273.8" y="1428.0" font-size="13.8" fill="#d3d9e6" font-weight="normal" text-anchor="middle" stroke="#d3d9e6" stroke-width="0.45">02-18</text>
<text x="317.9" y="1428.0" font-size="13.8" fill="#d3d9e6" font-weight="normal" text-anchor="middle" stroke="#d3d9e6" stroke-width="0.45">02-24</text>
<text x="362.0" y="1428.0" font-size="13.8" fill="#d3d9e6" font-weight="normal" text-anchor="middle" stroke="#d3d9e6" stroke-width="0.45">03-01</text>
<text x="420.8" y="1428.0" font-size="13.8" fill="#d3d9e6" font-weight="normal" text-anchor="middle" stroke="#d3d9e6" stroke-width="0.45">03-09</text>
<path d="M53.30 1398.50 C53.30 1398.50 58.13 1396.87 60.65 1393.30 C65.48 1386.47 63.77 1379.20 68.00 1377.70 C71.12 1376.60 73.26 1391.06 75.35 1388.10 C80.61 1380.66 76.96 1371.11 82.70 1356.90 C84.31 1352.91 87.92 1355.47 90.05 1351.70 C95.27 1342.47 93.27 1341.11 97.40 1330.90 C100.62 1322.91 99.92 1322.13 104.75 1315.30 C107.27 1311.73 111.02 1306.68 112.10 1310.10 C118.37 1330.08 115.14 1357.53 119.45 1362.10 C122.49 1365.33 120.88 1342.44 126.80 1325.70 C128.23 1321.64 133.23 1324.74 134.15 1320.50 C140.58 1290.94 134.92 1286.03 141.50 1258.10 C142.27 1258.10 147.28 1258.10 148.85 1258.10 C154.63 1268.32 153.33 1270.91 156.20 1284.10 C160.68 1304.71 160.09 1326.93 163.55 1325.70 C167.44 1324.33 165.89 1287.77 170.90 1278.90 C173.24 1274.77 173.59 1296.40 178.25 1299.70 C180.94 1301.60 183.25 1286.80 185.60 1289.30 C190.60 1294.60 189.85 1302.16 192.95 1315.30 C197.20 1333.36 194.16 1336.51 200.30 1351.70 C201.51 1354.71 206.28 1348.79 207.65 1351.70 C213.63 1364.39 211.01 1381.49 215.00 1382.90 C218.36 1384.09 218.30 1369.78 222.35 1356.90 C225.65 1346.38 227.36 1331.97 229.70 1336.10 C234.71 1344.97 231.26 1360.36 237.05 1382.90 C238.61 1388.96 240.72 1393.30 244.40 1393.30 C248.07 1393.30 249.06 1381.00 251.75 1382.90 C256.41 1386.20 255.80 1404.87 259.10 1403.70 C263.15 1402.27 260.67 1387.92 266.45 1377.70 C268.02 1374.92 271.96 1375.10 273.80 1377.70 C279.31 1385.50 275.93 1389.27 281.15 1398.50 C283.28 1402.27 285.46 1404.78 288.50 1403.70 C292.81 1402.18 292.73 1392.20 295.85 1393.30 C300.08 1394.80 298.05 1403.43 303.20 1408.90 C305.40 1408.90 307.25 1408.90 310.55 1408.90 C314.60 1407.47 314.22 1403.70 317.90 1403.70 C321.57 1403.70 324.17 1408.90 325.25 1408.90 C331.52 1388.92 328.93 1356.90 332.60 1356.90 C336.28 1356.90 333.68 1388.92 339.95 1408.90 C341.03 1408.90 343.62 1406.30 347.30 1403.70 C350.98 1401.10 350.97 1398.50 354.65 1398.50 C358.32 1398.50 358.32 1401.10 362.00 1403.70 C365.68 1406.30 366.83 1408.90 369.35 1408.90 C374.18 1405.48 372.47 1394.80 376.70 1393.30 C379.82 1392.20 380.93 1404.80 384.05 1403.70 C388.28 1402.20 386.25 1393.57 391.40 1388.10 C393.60 1385.77 396.06 1386.20 398.75 1388.10 C403.41 1391.40 402.43 1393.30 406.10 1398.50 C409.77 1403.70 409.14 1407.38 413.45 1408.90 C416.49 1408.90 420.80 1403.70 420.80 1403.70" fill="none" stroke="#21e8f2" stroke-width="2" stroke-linejoin="round" stroke-linecap="round"/>
<rect x="470.3" y="1190.9" width="4" height="11" fill="#139bd3"/><text x="476.8" y="1201.3" font-size="13.4" fill="#e8edf5" font-weight="500" text-anchor="start" >新增死亡及出院趋势</text>
<rect x="581.5" y="1225" width="14" height="4.5" rx="2" fill="#21e8f2"/>
<text x="600.0" y="1232.0" font-size="11.8" fill="#d3d9e6" font-weight="500" text-anchor="start" >新增死亡病例</text>
<rect x="677" y="1225" width="14" height="4.5" rx="2" fill="#e9a93a"/>
<text x="695.5" y="1232.0" font-size="11.8" fill="#d3d9e6" font-weight="500" text-anchor="start" >新增出院病例</text>
<text x="488.0" y="1235.0" font-size="13" fill="#d3d9e6" font-weight="500" text-anchor="end" >例</text>
<text x="488.5" y="1411.1" font-size="13.3" fill="#d3d9e6" font-weight="normal" text-anchor="end" stroke="#d3d9e6" stroke-width="0.45">0</text>
<line x1="495" x2="872" y1="1376.5" y2="1376.5" stroke="#2f4a8e" stroke-width="1"/>
<text x="488.5" y="1379.8" font-size="13.3" fill="#d3d9e6" font-weight="normal" text-anchor="end" stroke="#d3d9e6" stroke-width="0.45">5</text>
<line x1="495" x2="872" y1="1345.2" y2="1345.2" stroke="#2f4a8e" stroke-width="1"/>
<text x="488.5" y="1348.5" font-size="13.3" fill="#d3d9e6" font-weight="normal" text-anchor="end" stroke="#d3d9e6" stroke-width="0.45">10</text>
<line x1="495" x2="872" y1="1313.8" y2="1313.8" stroke="#2f4a8e" stroke-width="1"/>
<text x="488.5" y="1317.1" font-size="13.3" fill="#d3d9e6" font-weight="normal" text-anchor="end" stroke="#d3d9e6" stroke-width="0.45">15</text>
<line x1="495" x2="872" y1="1282.5" y2="1282.5" stroke="#2f4a8e" stroke-width="1"/>
<text x="488.5" y="1285.8" font-size="13.3" fill="#d3d9e6" font-weight="normal" text-anchor="end" stroke="#d3d9e6" stroke-width="0.45">20</text>
<line x1="495" x2="872" y1="1251.2" y2="1251.2" stroke="#2f4a8e" stroke-width="1"/>
<text x="488.5" y="1254.5" font-size="13.3" fill="#d3d9e6" font-weight="normal" text-anchor="end" stroke="#d3d9e6" stroke-width="0.45">25</text>
<line x1="495" x2="872" y1="1407.8" y2="1407.8" stroke="#2f4a8e" stroke-width="1"/>
<text x="499.3" y="1428.0" font-size="13.8" fill="#d3d9e6" font-weight="normal" text-anchor="middle" stroke="#d3d9e6" stroke-width="0.45">01-19</text>
<text x="543.6" y="1428.0" font-size="13.8" fill="#d3d9e6" font-weight="normal" text-anchor="middle" stroke="#d3d9e6" stroke-width="0.45">01-25</text>
<text x="587.9" y="1428.0" font-size="13.8" fill="#d3d9e6" font-weight="normal" text-anchor="middle" stroke="#d3d9e6" stroke-width="0.45">01-31</text>
<text x="632.1" y="1428.0" font-size="13.8" fill="#d3d9e6" font-weight="normal" text-anchor="middle" stroke="#d3d9e6" stroke-width="0.45">02-06</text>
<text x="676.4" y="1428.0" font-size="13.8" fill="#d3d9e6" font-weight="normal" text-anchor="middle" stroke="#d3d9e6" stroke-width="0.45">02-12</text>
<text x="720.7" y="1428.0" font-size="13.8" fill="#d3d9e6" font-weight="normal" text-anchor="middle" stroke="#d3d9e6" stroke-width="0.45">02-18</text>
<text x="765.0" y="1428.0" font-size="13.8" fill="#d3d9e6" font-weight="normal" text-anchor="middle" stroke="#d3d9e6" stroke-width="0.45">02-24</text>
<text x="809.3" y="1428.0" font-size="13.8" fill="#d3d9e6" font-weight="normal" text-anchor="middle" stroke="#d3d9e6" stroke-width="0.45">03-01</text>
<text x="868.3" y="1428.0" font-size="13.8" fill="#d3d9e6" font-weight="normal" text-anchor="middle" stroke="#d3d9e6" stroke-width="0.45">03-09</text>
<path d="M499.30 1407.80 C499.30 1407.80 502.99 1407.80 506.68 1407.80 C510.37 1407.80 510.37 1407.80 514.06 1407.80 C517.75 1407.80 517.75 1407.80 521.44 1407.80 C525.13 1407.80 525.13 1407.80 528.82 1407.80 C532.51 1407.80 532.51 1407.80 536.20 1407.80 C539.89 1407.80 539.89 1407.80 543.58 1407.80 C547.27 1407.80 547.77 1407.80 550.96 1407.80 C555.15 1406.02 554.65 1401.54 558.34 1401.54 C562.03 1401.54 561.53 1406.02 565.72 1407.80 C568.91 1407.80 569.41 1407.80 573.10 1407.80 C576.79 1407.80 576.79 1407.80 580.48 1407.80 C584.17 1407.80 584.17 1407.80 587.86 1407.80 C591.55 1407.80 591.55 1407.80 595.24 1407.80 C598.93 1407.80 598.93 1407.80 602.62 1407.80 C606.31 1407.80 606.31 1407.80 610.00 1407.80 C613.69 1407.80 613.69 1407.80 617.38 1407.80 C621.07 1407.80 621.07 1407.80 624.76 1407.80 C628.45 1407.80 628.95 1407.80 632.14 1407.80 C636.33 1406.02 635.83 1401.54 639.52 1401.54 C643.21 1401.54 642.71 1406.02 646.90 1407.80 C650.09 1407.80 651.09 1407.80 654.28 1407.80 C658.47 1406.02 657.97 1401.54 661.66 1401.54 C665.35 1401.54 664.85 1406.02 669.04 1407.80 C672.23 1407.80 672.73 1407.80 676.42 1407.80 C680.11 1407.80 680.61 1407.80 683.80 1407.80 C687.99 1406.02 687.49 1401.54 691.18 1401.54 C694.87 1401.54 694.37 1406.02 698.56 1407.80 C701.75 1407.80 702.25 1407.80 705.94 1407.80 C709.63 1407.80 709.63 1407.80 713.32 1407.80 C717.01 1407.80 717.01 1407.80 720.70 1407.80 C724.39 1407.80 724.39 1407.80 728.08 1407.80 C731.77 1407.80 731.77 1407.80 735.46 1407.80 C739.15 1407.80 739.15 1407.80 742.84 1407.80 C746.53 1407.80 746.53 1407.80 750.22 1407.80 C753.91 1407.80 753.91 1407.80 757.60 1407.80 C761.29 1407.80 761.29 1407.80 764.98 1407.80 C768.67 1407.80 769.17 1407.80 772.36 1407.80 C776.55 1406.02 776.05 1404.67 779.74 1401.54 C783.43 1398.40 783.43 1395.27 787.12 1395.27 C790.81 1395.27 790.81 1398.40 794.50 1401.54 C798.19 1404.67 797.69 1406.02 801.88 1407.80 C805.07 1407.80 805.57 1407.80 809.26 1407.80 C812.95 1407.80 812.95 1407.80 816.64 1407.80 C820.33 1407.80 820.33 1407.80 824.02 1407.80 C827.71 1407.80 827.71 1407.80 831.40 1407.80 C835.09 1407.80 835.09 1407.80 838.78 1407.80 C842.47 1407.80 842.47 1407.80 846.16 1407.80 C849.85 1407.80 849.85 1407.80 853.54 1407.80 C857.23 1407.80 857.23 1407.80 860.92 1407.80 C864.61 1407.80 868.30 1407.80 868.30 1407.80" fill="none" stroke="#21e8f2" stroke-width="2" stroke-linejoin="round" stroke-linecap="round"/>
<path d="M499.30 1407.80 C499.30 1407.80 502.99 1407.80 506.68 1407.80 C510.37 1407.80 510.37 1407.80 514.06 1407.80 C517.75 1407.80 517.75 1407.80 521.44 1407.80 C525.13 1407.80 525.63 1407.80 528.82 1407.80 C533.01 1406.02 532.01 1403.31 536.20 1401.54 C539.39 1400.18 540.39 1400.18 543.58 1401.54 C547.77 1403.31 546.77 1406.02 550.96 1407.80 C554.15 1407.80 555.86 1407.80 558.34 1407.80 C563.24 1403.64 562.03 1395.27 565.72 1395.27 C569.41 1395.27 568.67 1405.92 573.10 1407.80 C576.05 1407.80 576.79 1401.54 580.48 1401.54 C584.17 1401.54 585.86 1407.80 587.86 1407.80 C593.24 1400.94 589.86 1389.60 595.24 1382.74 C597.24 1380.20 601.44 1392.53 602.62 1389.01 C608.82 1370.60 606.71 1336.11 610.00 1338.90 C614.09 1342.37 612.79 1393.74 617.38 1401.54 C620.17 1406.27 620.75 1365.65 624.76 1363.95 C628.13 1362.52 626.47 1380.83 632.14 1395.27 C633.85 1399.62 636.57 1402.79 639.52 1401.54 C643.95 1399.66 644.26 1395.73 646.90 1389.01 C651.64 1376.94 650.12 1365.72 654.28 1363.95 C657.50 1362.59 658.44 1384.11 661.66 1382.74 C665.82 1380.98 665.35 1370.22 669.04 1357.69 C672.73 1345.16 671.04 1339.49 676.42 1332.63 C678.42 1330.09 682.48 1342.26 683.80 1338.90 C689.86 1323.46 688.13 1291.16 691.18 1295.05 C695.51 1300.56 692.16 1333.25 698.56 1357.69 C699.54 1361.44 702.25 1351.42 705.94 1351.42 C709.63 1351.42 712.63 1361.77 713.32 1357.69 C720.01 1317.92 717.01 1263.73 720.70 1263.73 C724.39 1263.73 723.28 1343.43 728.08 1357.69 C730.66 1365.35 731.53 1309.24 735.46 1307.58 C738.91 1306.11 737.28 1339.62 742.84 1351.42 C744.66 1355.28 746.53 1338.90 750.22 1338.90 C753.91 1338.90 755.95 1355.62 757.60 1351.42 C763.33 1336.82 759.70 1325.95 764.98 1301.31 C767.08 1291.49 770.06 1278.61 772.36 1282.52 C777.44 1291.14 775.09 1304.67 779.74 1326.37 C782.47 1339.12 783.81 1352.83 787.12 1351.42 C791.19 1349.70 791.83 1315.58 794.50 1320.10 C799.21 1328.10 795.57 1355.07 801.88 1376.48 C802.95 1380.13 805.07 1371.99 809.26 1370.22 C812.45 1368.86 812.95 1370.22 816.64 1370.22 C820.33 1370.22 822.04 1367.70 824.02 1370.22 C829.42 1377.10 827.11 1379.90 831.40 1389.01 C834.49 1395.56 836.14 1403.78 838.78 1401.54 C843.52 1397.51 840.41 1386.25 846.16 1376.48 C847.79 1373.72 851.06 1378.59 853.54 1376.48 C858.44 1372.32 857.23 1363.95 860.92 1363.95 C864.61 1363.95 868.30 1376.48 868.30 1376.48" fill="none" stroke="#e9a93a" stroke-width="2" stroke-linejoin="round" stroke-linecap="round"/>
<!-- watermark -->
<g opacity="0.95">
<path d="M740.4 1437.5 C740.4 1432 744 1426.5 749 1424 C752.5 1422.3 756.5 1422.3 757 1425 C757.3 1426.5 756.6 1427.4 757.5 1427.8 C759.5 1427 763 1426.8 765.5 1428.3 C768.5 1430 769.6 1433 769.3 1436.5 C768.8 1442 762 1445.8 754.5 1445.8 C746.5 1445.8 740.4 1442.5 740.4 1437.5Z" fill="#ffffff"/>
<ellipse cx="753.8" cy="1437.3" rx="9.4" ry="5.9" fill="#16347b" transform="rotate(-8 753.8 1437.3)"/>
<circle cx="752.8" cy="1437.8" r="4.6" fill="#ffffff"/>
<circle cx="751.6" cy="1438.3" r="1.4" fill="#16347b"/>
<path d="M763.2 1424.3 A5.3 5.3 0 0 1 768.3 1429" fill="none" stroke="#ffffff" stroke-width="2.5" stroke-linecap="round"/>
<path d="M762.2 1420.3 A9.4 9.4 0 0 1 772.2 1430.2" fill="none" stroke="#ffffff" stroke-width="2.5" stroke-linecap="round"/>
<text x="777.5" y="1442" font-size="23" fill="#ffffff">@首都健康</text>
</g>
</svg>
</body></html>
